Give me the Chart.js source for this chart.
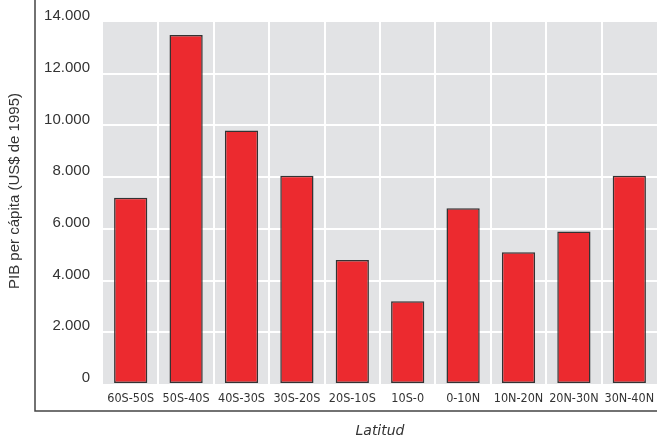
<!DOCTYPE html>
<html>
<head>
<meta charset="utf-8">
<script src="https://cdn.jsdelivr.net/npm/chart.js@4/dist/chart.umd.min.js"></script>
<style>
  html, body { margin: 0; padding: 0; background: #fff; }
  #wrap { width: 657px; height: 443px; position: relative; }
</style>
</head>
<body>
<div id="wrap"><canvas id="c"></canvas></div>
<script>
// Latitude bands (south to north) and GDP per capita in 1995 US$
const latitudes = ['60S-50S', '50S-40S', '40S-30S', '30S-20S', '20S-10S', '10S-0', '0-10N', '10N-20N', '20N-30N', '30N-40N'];
const gdpPerCapita = [7200, 13500, 9800, 8050, 4800, 3200, 6800, 5100, 5900, 8050];

// Value axis range and labels
const yMin = 0;
const yMax = 14000;
const yStep = 2000;
const yTitle = 'PIB per cápita (US$ de 1995)';
const xTitle = 'Latitud';

const textColor = '#333333';

function thousands(v) {
  return String(v).replace(/\B(?=(\d{3})+(?!\d))/g, '.');
}

// Grey plot panel behind the grid, plus the outer frame and rotated y title
const panelPlugin = {
  id: 'panel',
  beforeDraw(chart) {
    const { ctx, chartArea: a } = chart;
    ctx.save();
    ctx.fillStyle = '#e2e3e5';
    ctx.fillRect(a.left, a.top, a.right - a.left, a.bottom - a.top);
    ctx.restore();
  },
  afterDraw(chart) {
    const { ctx, chartArea: a } = chart;
    const frameX = 35;
    const frameY = 411;
    ctx.save();
    ctx.strokeStyle = '#444444';
    ctx.lineWidth = 1.5;
    ctx.beginPath();
    ctx.moveTo(frameX, 0);
    ctx.lineTo(frameX, frameY);
    ctx.lineTo(chart.width, frameY);
    ctx.stroke();

    ctx.fillStyle = textColor;
    ctx.font = '15px "Liberation Sans", Arial, sans-serif';
    ctx.textAlign = 'center';
    ctx.textBaseline = 'middle';
    ctx.translate(15, (a.top + a.bottom) / 2 - 12);
    ctx.rotate(-Math.PI / 2);
    ctx.fillText(yTitle, 0, 0);
    ctx.restore();
  }
};

new Chart(document.getElementById('c'), {
  type: 'bar',
  data: {
    labels: latitudes,
    datasets: [{
      data: gdpPerCapita,
      backgroundColor: '#ec2a2f',
      borderColor: '#333333',
      borderWidth: 1.5,
      borderSkipped: false,
      barPercentage: 0.6,
      categoryPercentage: 1.0
    }]
  },
  options: {
    responsive: true,
    maintainAspectRatio: false,
    animation: false,
    layout: { padding: { top: 20, right: 0, left: 0, bottom: 0 } },
    plugins: {
      legend: { display: false },
      tooltip: { enabled: false }
    },
    scales: {
      x: {
        grid: {
          offset: true,
          drawTicks: false,
          lineWidth: 2,
          color: c => (c.index === undefined || c.index === 0 || c.index >= latitudes.length) ? 'rgba(0,0,0,0)' : '#ffffff'
        },
        border: { display: false },
        ticks: {
          color: textColor,
          padding: 7,
          maxRotation: 0,
          autoSkip: false,
          font: { family: '"DejaVu Sans Condensed", "Liberation Sans Narrow", sans-serif', size: 12.5 }
        },
        title: {
          display: true,
          text: xTitle,
          color: textColor,
          padding: { top: 0, bottom: 3 },
          font: { family: '"DejaVu Sans", sans-serif', size: 14, style: 'italic' }
        },
        afterFit(scale) {
          scale.height = 59;
          scale.paddingRight = 0;
        }
      },
      y: {
        min: yMin,
        max: yMax,
        grid: {
          drawTicks: false,
          lineWidth: 2,
          color: c => (c.tick && (c.tick.value === yMin || c.tick.value === yMax)) ? 'rgba(0,0,0,0)' : '#ffffff'
        },
        border: { display: false },
        ticks: {
          stepSize: yStep,
          color: textColor,
          padding: 13,
          labelOffset: -6,
          font: { family: '"Liberation Sans", Arial, sans-serif', size: 15 },
          callback: v => thousands(v)
        },
        afterFit(scale) { scale.width = 103; }
      }
    }
  },
  plugins: [panelPlugin]
});
</script>
</body>
</html>
